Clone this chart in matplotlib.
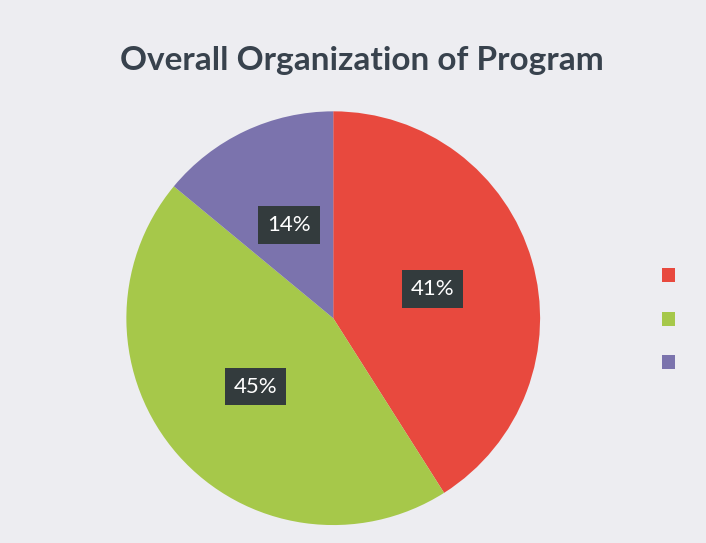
import matplotlib.pyplot as plt

categories = ["A", "B", "C"]
shares = [41, 45, 14]
colors = ["#e8493e", "#a6c84a", "#7b73ad"]
title = "Overall Organization of Program"

fig = plt.figure(figsize=(7.06, 5.43), dpi=100)
fig.patch.set_facecolor("#ededf1")

ax = fig.add_axes([0.472 - 0.293, 0.414 - 0.381, 0.586, 0.762])
ax.set_facecolor("none")
wedges, texts, autotexts = ax.pie(
    shares, colors=colors, startangle=90, counterclock=False,
    autopct="%d%%", pctdistance=0.5,
    textprops=dict(color="white", fontsize=16, family="Lato"),
)
for t in autotexts:
    t.set_bbox(dict(boxstyle="square,pad=0.4", facecolor="#333b3d", edgecolor="none"))
ax.set_xlim(-1, 1)
ax.set_ylim(-1, 1)
ax.set_aspect("equal")

fig.text(0.513, 0.888, title, ha="center", va="center",
         fontsize=24, fontweight="bold", color="#38424d", family="Lato")

# legend markers only, no labels
for i, c in enumerate(colors):
    fig.patches.append(plt.Rectangle((0.937, 1 - (275 + i * 43.5 + 7) / 543), 0.019, 0.025,
                                     transform=fig.transFigure, facecolor=c, edgecolor="none"))

fig.savefig("out.png", dpi=100, facecolor=fig.get_facecolor())
